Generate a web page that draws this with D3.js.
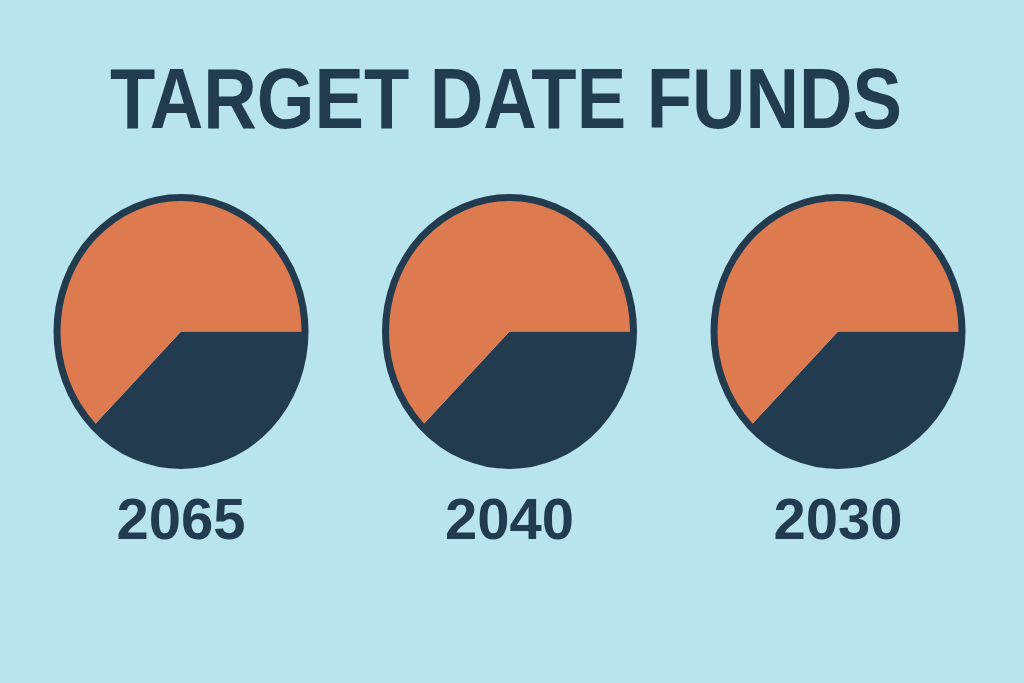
<!DOCTYPE html>
<html lang="en">
<head>
<meta charset="UTF-8">
<title>Target Date Funds</title>
<script src="https://d3js.org/d3.v7.min.js"></script>
<style>
    body { margin: 0; background: #b8e4ed; }
    svg { display: block; }
</style>
</head>
<body>
<div id="chart"></div>
<script>
// data
const funds = ["2065", "2040", "2030"];
const stocks = [62.5, 62.5, 62.5];   // orange share
const bonds = [37.5, 37.5, 37.5];    // navy share

const width = 1024, height = 683;
const navy = "#223b4e", orange = "#dd7a50";

const svg = d3.select("#chart").append("svg")
    .attr("width", width)
    .attr("height", height);

svg.append("rect").attr("width", width).attr("height", height).attr("fill", "#b8e4ed");

// title
svg.append("text")
    .attr("x", 110)
    .attr("y", 128)
    .attr("textLength", 792)
    .attr("lengthAdjust", "spacingAndGlyphs")
    .attr("font-family", "'Liberation Sans Narrow', 'Liberation Sans', sans-serif")
    .attr("font-weight", 700)
    .attr("font-size", 86)
    .attr("fill", navy)
    .text("TARGET DATE FUNDS");

const x = d3.scalePoint().domain(funds).range([181, 838]);
const cy = 331.5, rx = 127.5, ry = 137.5, sw = 7;

const pie = d3.pie().sort(null).startAngle(Math.PI / 2).endAngle(Math.PI / 2 + 2 * Math.PI);
const arc = d3.arc().innerRadius(0).outerRadius(rx - sw / 2);

const g = svg.selectAll(".fund")
    .data(funds)
    .enter().append("g")
    .attr("class", "fund");

g.each(function(d, i) {
    const sel = d3.select(this);
    const slices = pie([bonds[i], stocks[i]]);
    const inner = sel.append("g")
        .attr("transform", `translate(${x(d)},${cy}) scale(1,${ry / rx})`);
    inner.selectAll("path")
        .data(slices)
        .enter().append("path")
        .attr("d", arc)
        .attr("fill", (s, j) => j === 0 ? navy : orange);
    sel.append("ellipse")
        .attr("cx", x(d))
        .attr("cy", cy)
        .attr("rx", rx - sw / 2)
        .attr("ry", ry - sw / 2)
        .attr("fill", "none")
        .attr("stroke", navy)
        .attr("stroke-width", sw);
    sel.append("text")
        .attr("x", x(d))
        .attr("y", 539)
        .attr("text-anchor", "middle")
        .attr("font-family", "'Liberation Sans', Arial, sans-serif")
        .attr("font-weight", 700)
        .attr("font-size", 58)
        .attr("fill", navy)
        .text(d);
});
</script>
</body>
</html>
